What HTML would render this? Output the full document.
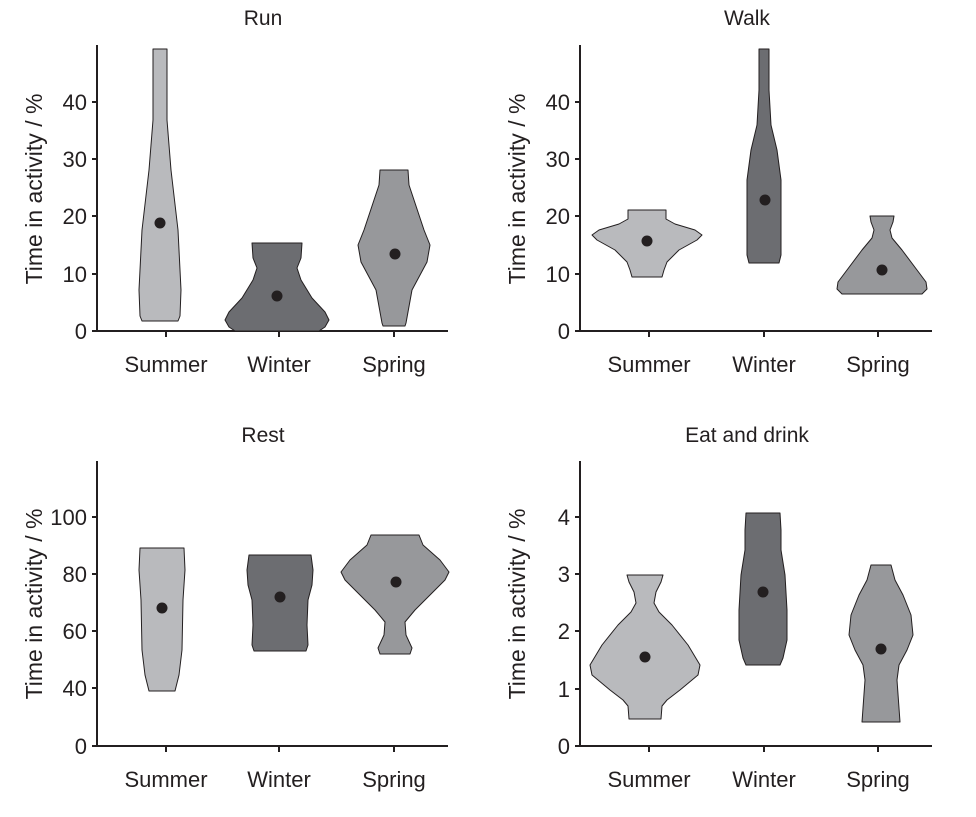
<!DOCTYPE html>
<html><head><meta charset="utf-8"><style>
body{margin:0;background:#fff}
svg{display:block}
text{font-family:"Liberation Sans",Arial,sans-serif;fill:#231f20}
.t{font-size:22px}
.a{stroke:#231f20;stroke-width:2;fill:none}
.v{stroke:#231f20;stroke-width:1;stroke-linejoin:round}
.l{fill:#b9babd}.d{fill:#6c6d71}.m{fill:#97989b}
</style></head><body>
<svg width="976" height="817" viewBox="0 0 976 817">
<text x="263" y="25" font-size="21" text-anchor="middle">Run</text>
<text x="747" y="25" font-size="21" text-anchor="middle">Walk</text>
<text x="263" y="442" font-size="21" text-anchor="middle">Rest</text>
<text x="747" y="442" font-size="21" text-anchor="middle">Eat and drink</text>
<text transform="translate(42,189) rotate(-90)" text-anchor="middle" font-size="23">Time in activity / %</text>
<text transform="translate(525,189) rotate(-90)" text-anchor="middle" font-size="23">Time in activity / %</text>
<text transform="translate(42,604) rotate(-90)" text-anchor="middle" font-size="23">Time in activity / %</text>
<text transform="translate(525,604) rotate(-90)" text-anchor="middle" font-size="23">Time in activity / %</text>

<path class="a" d="M97,45V331H448M92,331H97M92,274H97M92,216H97M92,159H97M92,102H97M166,331v6M279,331v6M394,331v6"/>
<g class="t" text-anchor="end"><text x="87" y="339">0</text><text x="87" y="282">10</text><text x="87" y="224">20</text><text x="87" y="167">30</text><text x="87" y="110">40</text></g>
<g class="t" text-anchor="middle"><text x="166" y="372">Summer</text><text x="279" y="372">Winter</text><text x="394" y="372">Spring</text></g>
<path class="a" d="M580,45V331H932M575,331H580M575,274H580M575,216H580M575,159H580M575,102H580M649,331v6M764,331v6M878,331v6"/>
<g class="t" text-anchor="end"><text x="570" y="339">0</text><text x="570" y="282">10</text><text x="570" y="224">20</text><text x="570" y="167">30</text><text x="570" y="110">40</text></g>
<g class="t" text-anchor="middle"><text x="649" y="372">Summer</text><text x="764" y="372">Winter</text><text x="878" y="372">Spring</text></g>
<path class="a" d="M97,461V746H448M92,746H97M92,688H97M92,631H97M92,574H97M92,517H97M166,746v6M279,746v6M394,746v6"/>
<g class="t" text-anchor="end"><text x="87" y="754">0</text><text x="87" y="696">40</text><text x="87" y="639">60</text><text x="87" y="582">80</text><text x="87" y="525">100</text></g>
<g class="t" text-anchor="middle"><text x="166" y="787">Summer</text><text x="279" y="787">Winter</text><text x="394" y="787">Spring</text></g>
<path class="a" d="M580,461V746H932M575,746H580M575,689H580M575,631H580M575,574H580M575,517H580M649,746v6M764,746v6M878,746v6"/>
<g class="t" text-anchor="end"><text x="570" y="754">0</text><text x="570" y="697">1</text><text x="570" y="639">2</text><text x="570" y="582">3</text><text x="570" y="525">4</text></g>
<g class="t" text-anchor="middle"><text x="649" y="787">Summer</text><text x="764" y="787">Winter</text><text x="878" y="787">Spring</text></g>

<polygon class="v l" points="167,49 167,120 171,170 178,230 181,290 180,316 178,321 142,321 140,316 139,290 142,230 149,170 153,120 153,49"/>
<polygon class="v d" points="302,243 301,258 297,268 301,280 312,298 325,312 329,320 325,327 319,331 235,331 229,327 225,320 229,312 242,298 253,280 257,268 253,258 252,243"/>
<polygon class="v m" points="408,170 409,185 414,200 424,230 430,245 427,262 412,290 406,323 405,326 383,326 382,323 376,290 361,262 358,245 364,230 374,200 379,185 380,170"/>
<polygon class="v l" points="666,210 666,219 675,224 695,230 702,235 697,240 679,250 667,262 664,270 662,277 632,277 630,270 627,262 615,250 597,240 592,235 599,230 619,224 628,219 628,210"/>
<polygon class="v d" points="769,49 769,90 771,125 777,150 781,180 781,255 779,263 749,263 747,255 747,180 751,150 757,125 759,90 759,49"/>
<polygon class="v m" points="894,216 893,222 890,230 892,238 902,250 917,270 926,282 927,289 922,294 842,294 837,289 838,282 847,270 862,250 872,238 874,230 871,222 870,216"/>
<polygon class="v l" points="184,548 185,570 183,600 182,650 179,675 175,691 149,691 145,675 142,650 141,600 139,570 140,548"/>
<polygon class="v d" points="311,555 313,570 312,585 308,600 307,625 308,645 306,651 254,651 252,645 253,625 252,600 248,585 247,570 249,555"/>
<polygon class="v m" points="419,535 423,545 440,560 449,572 445,580 430,595 415,610 405,622 406,635 412,648 410,654 380,654 378,648 384,635 385,622 375,610 360,595 345,580 341,572 350,560 367,545 371,535"/>
<polygon class="v l" points="663,575 661,582 656,592 654,603 659,612 672,625 688,645 700,665 698,675 680,690 667,700 662,706 661,719 629,719 628,706 623,700 610,690 592,675 590,665 602,645 618,625 631,612 636,603 634,592 629,582 627,575"/>
<polygon class="v d" points="780,513 781,530 781,550 785,575 787,610 787,640 783,658 780,665 746,665 743,658 739,640 739,610 741,575 745,550 745,530 746,513"/>
<polygon class="v m" points="891,565 895,580 903,595 911,615 913,635 907,650 899,665 897,680 900,722 862,722 865,680 863,665 855,650 849,635 851,615 859,595 867,580 871,565"/>

<g fill="#231f20">
<circle cx="160" cy="223" r="5.5"/><circle cx="277" cy="296" r="5.5"/><circle cx="395" cy="254" r="5.5"/>
<circle cx="647" cy="241" r="5.5"/><circle cx="765" cy="200" r="5.5"/><circle cx="882" cy="270" r="5.5"/>
<circle cx="162" cy="608" r="5.5"/><circle cx="280" cy="597" r="5.5"/><circle cx="396" cy="582" r="5.5"/>
<circle cx="645" cy="657" r="5.5"/><circle cx="763" cy="592" r="5.5"/><circle cx="881" cy="649" r="5.5"/>
</g>
</svg>
</body></html>
